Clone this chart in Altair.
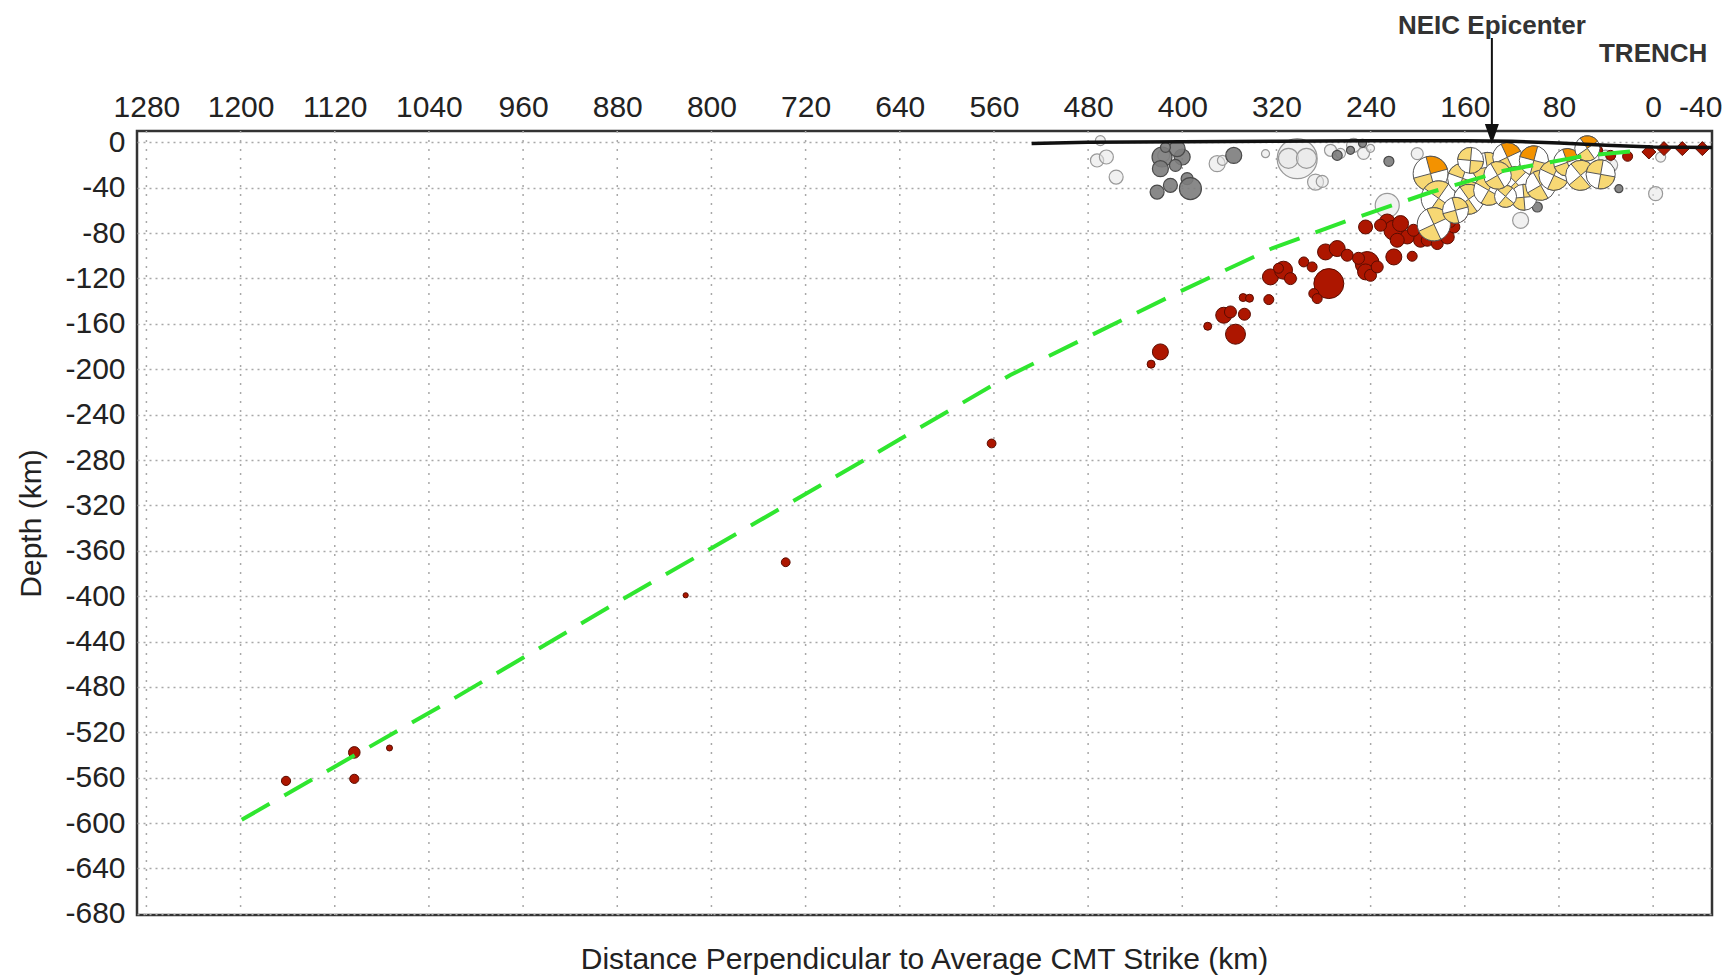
import math
import altair as alt
import pandas as pd

FONT = "Liberation Sans"

# ---------------- axes ----------------
X_TICKS = [1280, 1200, 1120, 1040, 960, 880, 800, 720, 640, 560, 480, 400, 320, 240, 160, 80, 0, -40]
X_GRID = [1280, 1200, 1120, 1040, 960, 880, 800, 720, 640, 560, 480, 400, 320, 240, 160, 80, 0]
Y_TICKS = list(range(0, -681, -40))

# ---------------- events (distance km, depth km, magnitude) ----------------
light_km = [472.4, 464.5, 456.2, 469.6, 415.8, 370.4, 365.9, 329.3, 302.4, 309.8, 294.5, 286.8, 281.1,
            274.1, 265.6, 254.5, 246.0, 240.1, 200.4, 225.9, 112.6, -2.1, 40.4, 36.1, -6.4]
light_depth = [-15.9, -12.9, -30.6, 1.5, -11.5, -18.8, -15.9, -10.0, -14.4, -14.1, -14.1, -35.0, -34.4,
               -7.0, -9.7, -2.6, -9.7, -5.3, -10.0, -55.5, -68.7, -45.2, -13.0, -20.0, -13.0]
light_mag = [4.9, 5.0, 5.0, 4.5, 4.75, 5.25, 4.5, 4.25, 8.25, 5.75, 5.75, 5.25, 4.75,
             4.75, 4.5, 5.0, 4.75, 4.25, 4.75, 6.25, 5.25, 5.0, 5.0, 5.0, 4.5]

dark_km = [417.2, 400.1, 404.4, 418.6, 405.8, 410.1, 421.4, 395.9, 393.1, 356.3, 268.4, 224.5,
           29.1, 98.4, 257.1, 246.9, 414.3]
dark_depth = [-12.9, -12.9, -5.5, -23.2, -20.3, -37.9, -43.8, -32.0, -40.8, -11.5, -11.5, -16.7,
              -40.8, -57.0, -7.0, -0.9, -4.4]
dark_mag = [5.75, 5.25, 5.25, 5.25, 4.75, 5.0, 5.0, 4.75, 6.0, 5.25, 4.5, 4.5,
            4.25, 4.5, 4.25, 4.25, 4.5]

red_km = [418.6, 426.5, 378.4, 354.8, 364.8, 359.1, 347.2, 348.3, 342.9, 326.5, 325.1, 314.0, 308.1,
          318.3, 296.8, 289.7, 275.5, 288.3, 285.4, 278.3, 268.4, 259.9, 242.9, 244.3, 250.3, 240.1,
          220.3, 204.7, 234.4, 244.3, 225.9, 220.3, 214.6, 208.9, 217.4, 197.6, 191.9, 183.4, 174.9,
          169.3, 203.6, 231.6, 163.6, 172.1, 180.6, 36.1, 21.7, 46.3, 562.0, 736.9, 821.9, 1103.4,
          1103.4, 1161.4, 1073.5]
red_depth = [-184.7, -195.5, -162.1, -169.1, -152.4, -149.5, -151.5, -136.8, -137.4, -138.6, -118.6,
             -112.7, -120.1, -111.0, -105.4, -109.8, -124.5, -133.3, -137.7, -96.6, -93.6, -99.5,
             -106.8, -114.2, -102.2, -117.2, -101.0, -100.4, -109.8, -74.6, -70.2, -77.5, -71.6,
             -83.4, -86.3, -86.3, -86.3, -89.2, -83.4, -74.6, -77.5, -73.1, -64.3, -70.5, -79.3,
             -11.5, -12.3, -7.0, -265.4, -370.1, -399.2, -537.7, -561.0, -562.8, -533.8]
red_mag = [5.25, 4.25, 4.25, 5.75, 5.25, 4.75, 4.75, 4.25, 4.25, 4.5, 5.25, 5.5, 4.75,
           4.5, 4.5, 4.5, 7.0, 4.5, 4.5, 5.25, 5.25, 4.75, 6.25, 5.25, 4.75, 4.75,
           5.25, 4.5, 4.75, 5.0, 5.25, 5.75, 5.25, 5.0, 5.0, 5.0, 4.75, 4.75, 5.0,
           4.75, 4.75, 4.75, 4.75, 4.5, 4.5, 4.5, 4.5, 4.25, 4.35, 4.35, 3.9, 4.7,
           4.4, 4.4, 4.0]

trench_km = [3.6, -9.2, -24.8, -41.8]
trench_depth = [-8.5, -5.5, -5.5, -5.5]
trench_mag = [5.0, 5.0, 5.0, 5.0]

# CMT focal mechanisms (beach balls)
cmt_km = [189.1, 182.3, 186.3, 161.9, 156.8, 140.9, 139.8, 123.9, 116.9, 109.8, 101.3, 95.6,
          84.3, 72.9, 61.6, 44.6, 55.9, 167.9, 125.4, 155.1, 132.2]
cmt_depth = [-27.6, -49.3, -72.2, -31.7, -50.2, -22.0, -42.3, -13.2, -35.2, -48.4, -15.9, -37.9,
             -29.1, -17.6, -29.1, -28.2, -5.3, -59.9, -47.6, -15.9, -29.1]
cmt_mag = [7.6, 7.6, 7.4, 7.0, 7.0, 7.0, 7.0, 6.9, 7.2, 6.5, 6.9, 7.0,
           7.0, 6.7, 7.0, 6.9, 6.4, 6.5, 6.0, 6.5, 6.7]
cmt_rot = [30, -10, 20, -25, 10, 35, -15, 20, 0, 40, -30, 15, -20, 25, 5, -35, 10, 30, -5, -40, 15]
cmt_type = ["shallow", "interplate", "interplate", "interplate", "interplate", "interplate",
            "interplate", "shallow", "interplate", "interplate", "shallow", "interplate",
            "interplate", "shallow", "interplate", "interplate", "shallow", "interplate",
            "interplate", "interplate", "interplate"]

# slab model (green dashed) and topography (black)
slab_km = [1199, 1030, 881, 700, 546, 399, 325, 257, 189, 127, 59, 10]
slab_depth = [-597, -497, -406, -298, -205, -130, -94, -68, -44, -25, -12, -7]
topo_km = [528, 480, 400, 320, 240, 160, 120, 80, 40, 0, -50]
topo_depth = [-1.0, 0.0, 0.5, 1.0, 1.5, 1.5, 1.0, -0.5, -2.5, -4.0, -4.5]

EPICENTER_KM = 137
TRENCH_KM = 0

# ---------------- scales / axes ----------------
W, H = 1575, 784
XS = alt.Scale(domain=[1288, -50], nice=False, zero=False)
YS = alt.Scale(domain=[-681, 10], nice=False, zero=False)

X_AXIS = alt.Axis(orient="top", values=X_TICKS, grid=False, ticks=False, domain=False,
                  labelFontSize=30, labelFont=FONT, labelColor="#222", labelPadding=9,
                  labelExpr="datum.value + ''", labelOverlap=False, labelFlush=False, title=None)
Y_AXIS = alt.Axis(orient="left", values=Y_TICKS, grid=True, gridDash=[2, 4], gridColor="#a8a8a8",
                  gridWidth=1.5, ticks=False, domain=False, labelFontSize=30, labelFont=FONT,
                  labelColor="#222", labelPadding=12, labelExpr="datum.value + ''",
                  labelOverlap=False, title="Depth (km)", titleFont=FONT, titleFontSize=30,
                  titleFontWeight="normal", titleColor="#222", titleX=-106, titleY=H / 2,
                  titleAngle=270, titleBaseline="middle", titleAlign="center")


def XE(field):
    return alt.X(field, type="quantitative", scale=XS, axis=X_AXIS)


def YE(field):
    return alt.Y(field, type="quantitative", scale=YS, axis=Y_AXIS)


def pts(km, depth, mag):
    return pd.DataFrame({"km": km, "depth": depth, "mag": mag})


def circles(df, fill, stroke, opacity=1.0, sw=1.0, shape="circle"):
    return alt.Chart(df).transform_calculate(
        sz="pow(2 * (3 + 4 * (datum.mag - 4)), 2)"
    ).mark_point(filled=True, fill=fill, stroke=stroke, strokeWidth=sw,
                 fillOpacity=opacity, opacity=1, shape=shape).encode(
        x=XE("km"), y=YE("depth"),
        size=alt.Size("sz:Q", scale=None, legend=None),
    )


grid = alt.Chart(pd.DataFrame({"g": X_GRID})).mark_rule(
    strokeDash=[2, 7], color="#a8a8a8", strokeWidth=1.5
).encode(x=XE("g"), y=alt.value(0), y2=alt.value(H))

light = circles(pts(light_km, light_depth, light_mag), "#e6e6e6", "#999999", opacity=0.55, sw=1.2)
dark = circles(pts(dark_km, dark_depth, dark_mag), "#7c7c7c", "#4a4a4a", opacity=0.9, sw=1.2)
red = circles(pts(red_km, red_depth, red_mag), "#ad1600", "#5a0c00", opacity=1.0, sw=1.0)
trench_pts = circles(pts(trench_km, trench_depth, trench_mag), "#ad1600", "#5a0c00",
                     opacity=1.0, sw=1.0, shape="diamond")

# beach balls: disk + two compressional quadrants, drawn ball by ball
rows = []
for k, d, m, rot, typ in zip(cmt_km, cmt_depth, cmt_mag, cmt_rot, cmt_type):
    rows.append({"km": k, "depth": d, "mag": m, "t0": 0.0, "t1": 2 * math.pi, "fillc": "#ffffff"})
    for j, base in enumerate((0, 180)):
        col = "#f39200" if (typ == "shallow" and j == 0) else "#f7d874"
        a0 = math.radians(rot - 45 + base + 360)
        a1 = math.radians(rot + 45 + base + 360)
        rows.append({"km": k, "depth": d, "mag": m, "t0": a0, "t1": a1, "fillc": col})
balls = alt.Chart(pd.DataFrame(rows)).transform_calculate(
    r="3 + 4 * (datum.mag - 4)"
).mark_arc(stroke="#555555", strokeWidth=1.0).encode(
    x=XE("km"), y=YE("depth"),
    theta=alt.Theta("t0:Q", scale=None, stack=False),
    theta2=alt.Theta2("t1:Q"),
    radius=alt.Radius("r:Q", scale=None),
    fill=alt.Fill("fillc:N", scale=None),
)

topo = alt.Chart(pd.DataFrame({"km": topo_km, "depth": topo_depth, "i": range(len(topo_km))})).mark_line(
    color="#111111", strokeWidth=3.5
).encode(x=XE("km"), y=YE("depth"), order="i:Q")

slab = alt.Chart(pd.DataFrame({"km": slab_km, "depth": slab_depth, "i": range(len(slab_km))})).mark_line(
    color="#2fe62f", strokeWidth=4, strokeDash=[32, 17], strokeCap="butt"
).encode(x=XE("km"), y=YE("depth"), order="i:Q")

ann = pd.DataFrame({"km": [EPICENTER_KM]})
arrow = alt.Chart(ann).mark_rule(color="#111111", strokeWidth=2).encode(
    x=XE("km"), y=alt.value(-93), y2=alt.value(-4))
head = alt.Chart(ann).mark_point(shape="M-0.7,-1L0.7,-1L0,1Z", filled=True, fill="#111111",
                                 stroke="#111111", size=256, opacity=1).encode(
    x=XE("km"), y=alt.value(2))
neic = alt.Chart(ann).mark_text(text="NEIC Epicenter", font=FONT, fontSize=26, fontWeight="bold",
                                color="#333333", align="center", baseline="middle").encode(
    x=XE("km"), y=alt.value(-105))
trench_txt = alt.Chart(pd.DataFrame({"km": [TRENCH_KM]})).mark_text(
    text="TRENCH", font=FONT, fontSize=26, fontWeight="bold", color="#333333",
    align="center", baseline="middle").encode(
    x=XE("km"), y=alt.value(-77))
xtitle = alt.Chart(pd.DataFrame({"t": ["Distance Perpendicular to Average CMT Strike (km)"]})).mark_text(
    font=FONT, fontSize=30, color="#222222", align="center", baseline="middle").encode(
    text="t:N", x=alt.value(W / 2), y=alt.value(829))

chart = alt.layer(
    grid, light, dark, red, balls, trench_pts, topo, slab, arrow, head, neic, trench_txt, xtitle
).properties(
    width=W, height=H,
    autosize=alt.AutoSizeParams(type="none"),
    padding={"left": 137, "top": 131, "right": 13, "bottom": 63},
).configure_view(stroke="#333333", strokeWidth=2.5)

chart.save("out.html", embed_options={"renderer": "svg", "actions": False})
